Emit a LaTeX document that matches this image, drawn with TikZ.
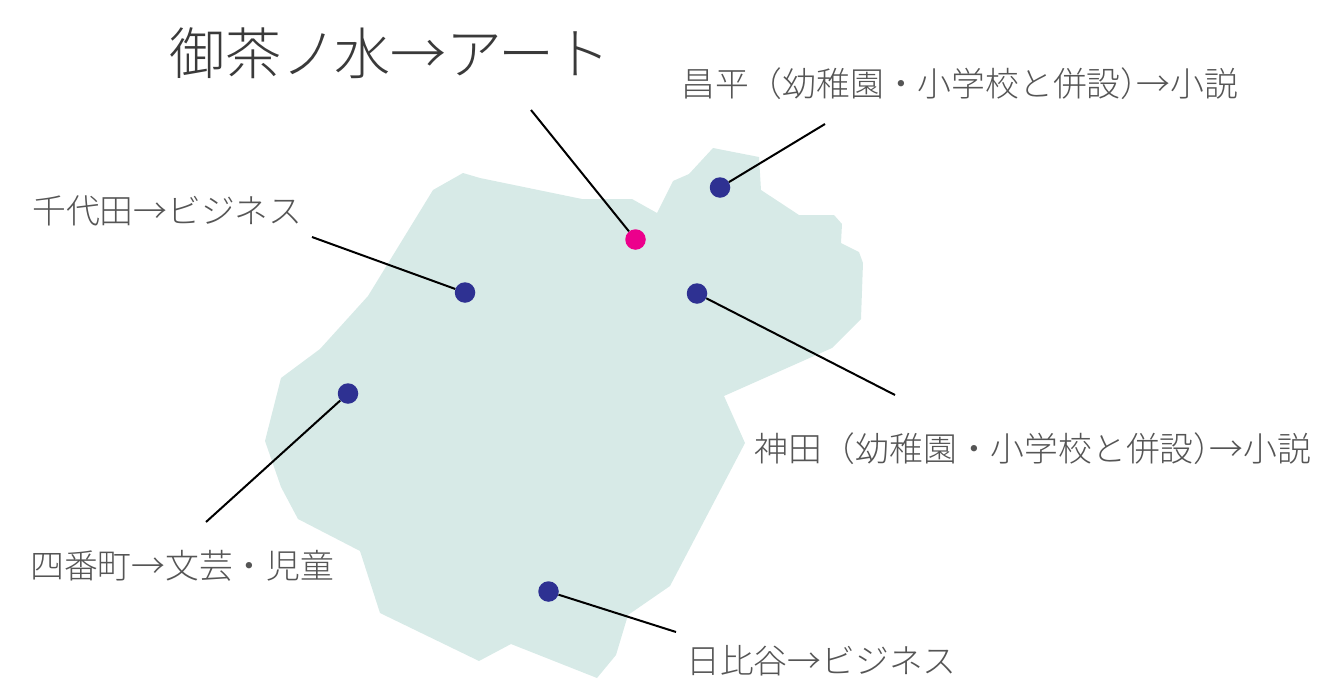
\documentclass[tikz,border=0pt]{standalone}
\usepackage{fontspec}
\newfontfamily\cjk{Noto Sans CJK JP Light}
\definecolor{landc}{HTML}{D7EAE7}
\definecolor{bluec}{HTML}{2E3192}
\definecolor{pinkc}{HTML}{EC008C}
\definecolor{titlec}{HTML}{3A3A3A}
\definecolor{labelc}{HTML}{555555}
\tikzset{
  land/.style={fill=landc,draw=none},
  spot/.style={circle,fill=#1,draw=none,minimum size=20.5pt,inner sep=0pt},
  leader/.style={draw=black,line width=2pt},
  label/.style={anchor=west,inner sep=0pt,text=labelc,font=\cjk\fontsize{33.8}{34}\selectfont},
  bigtitle/.style={anchor=west,inner sep=0pt,text=titlec,font=\cjk\fontsize{56}{56}\selectfont}
}
\begin{document}
\begin{tikzpicture}[x=1pt,y=-1pt]
\useasboundingbox (0,0) rectangle (1318,683);
\fill[land] (433,190) -- (463,173) -- (480,178) -- (582,199) -- (632,199) -- (657,213) -- (673,181) -- (689,174) -- (713,148) -- (759,157) -- (761,190) -- (799,215) -- (834,215) -- (842,224) -- (841,243) -- (859,252) -- (863,263) -- (861,319) -- (832,348) -- (724,396) -- (745,443) -- (670,586) -- (628,615) -- (616,655) -- (597,678) -- (511,644) -- (479,661) -- (380,613) -- (360,551) -- (298,519) -- (281,487) -- (265,441) -- (281,378) -- (320,349) -- (368,296) -- cycle;
\node[spot=bluec] (shohei) at (720,187.5) {};
\node[spot=pinkc] (ocha) at (635.5,239.5) {};
\node[spot=bluec] (chiyoda) at (465,292.5) {};
\node[spot=bluec] (kanda) at (697,293.5) {};
\node[spot=bluec] (yonban) at (348,393.5) {};
\node[spot=bluec] (hibiya) at (548.5,591.5) {};
\coordinate (eshohei) at (825,124);
\coordinate (eocha) at (531,110);
\coordinate (echiyoda) at (312,237);
\coordinate (ekanda) at (895,395);
\coordinate (eyonban) at (206,522);
\coordinate (ehibiya) at (676,632);
\draw[leader] (eshohei) -- (shohei);
\draw[leader] (eocha) -- (ocha);
\draw[leader] (echiyoda) -- (chiyoda);
\draw[leader] (ekanda) -- (kanda);
\draw[leader] (eyonban) -- (yonban);
\draw[leader] (ehibiya) -- (hibiya);
\node[bigtitle] (tocha) at (169,53.5) {御茶ノ\kern-3pt 水→アート};
\node[label] (tshohei) at (681,84) {昌平（幼稚園・小学校と併設）\kern-18pt →小説};
\node[label] (tchiyoda) at (32,210.5) {千代田→ビジネス};
\node[label] (tkanda) at (754,449) {神田（幼稚園・小学校と併設）\kern-18pt →小説};
\node[label] (tyonban) at (30,565.5) {四番町→文芸・児童};
\node[label] (thibiya) at (686,661) {日比谷→ビジネス};
\end{tikzpicture}
\end{document}
